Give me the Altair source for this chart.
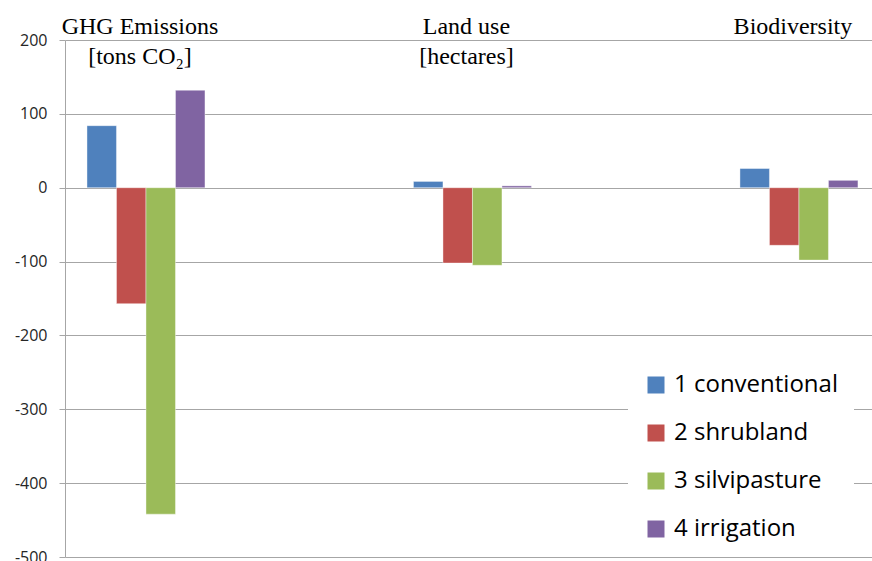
import altair as alt
import pandas as pd

# Impact categories and the heading printed above each group
categories = ["GHG", "Land use", "Biodiversity"]
headings = ["GHG Emissions\n[tons CO₂]", "Land use\n[hectares]", "Biodiversity"]

# Scenarios and their bar colours
scenarios = ["1 conventional", "2 shrubland", "3 silvipasture", "4 irrigation"]
colors = ["#4F81BD", "#C0504D", "#9BBB59", "#8064A2"]

# Change relative to baseline, one value per scenario
ghg_values = [84, -157, -442, 132]
land_values = [8.5, -102, -105, 2.5]
bio_values = [26, -78, -98, 10]

y_ticks = [-500, -400, -300, -200, -100, 0, 100, 200]

rows = []
for cat, vals in zip(categories, [ghg_values, land_values, bio_values]):
    for sc, v in zip(scenarios, vals):
        rows.append({"category": cat, "scenario": sc, "value": v})
bars_df = pd.DataFrame(rows)
heads_df = pd.DataFrame({"category": categories, "heading": headings})

x_enc = alt.X(
    "category:N",
    sort=categories,
    scale=alt.Scale(paddingInner=0.6386, paddingOuter=0.0552, align=0.61),
    axis=None,
)

bars = alt.Chart(bars_df).mark_bar(
    stroke="white", strokeWidth=0.8, strokeOpacity=0.5
).encode(
    x=x_enc,
    xOffset=alt.XOffset(
        "scenario:N", sort=scenarios,
        scale=alt.Scale(paddingInner=0, paddingOuter=0),
    ),
    y=alt.Y(
        "value:Q",
        scale=alt.Scale(domain=[-500, 200], nice=False, zero=False),
        axis=alt.Axis(
            values=y_ticks,
            labelExpr="toString(datum.value)",
            title=None,
            grid=True,
            gridColor="#a6a6a6",
            gridWidth=1,
            domainColor="#a6a6a6",
            tickColor="#a6a6a6",
            tickSize=6,
            labelFont="Open Sans",
            labelFontSize=16,
            labelColor="#262626",
            labelPadding=12,
        ),
    ),
    color=alt.Color(
        "scenario:N",
        sort=scenarios,
        scale=alt.Scale(domain=scenarios, range=colors),
        legend=alt.Legend(
            title=None,
            orient="none",
            legendX=563,
            legendY=317,
            symbolType="square",
            symbolSize=289,
            symbolStrokeWidth=0,
            labelFont="Open Sans",
            labelFontSize=24,
            labelColor="black",
            labelOffset=6,
            labelLimit=0,
            rowPadding=24,
            padding=16,
            fillColor="white",
        ),
    ),
)

heads = alt.Chart(heads_df).mark_text(
    font="Liberation Serif",
    fontSize=24,
    lineBreak="\n",
    lineHeight=30,
    baseline="alphabetic",
    align="center",
    dx=-6,
    color="black",
).encode(
    x=x_enc,
    y=alt.value(-6),
    text="heading:N",
)

chart = alt.layer(bars, heads).properties(
    width=807,
    height=517,
    autosize="none",
    padding={"left": 65, "top": 40, "right": 0, "bottom": 4},
    background="white",
).configure_view(stroke=None)

chart.save("out.html", embed_options={"renderer": "svg", "actions": False})
